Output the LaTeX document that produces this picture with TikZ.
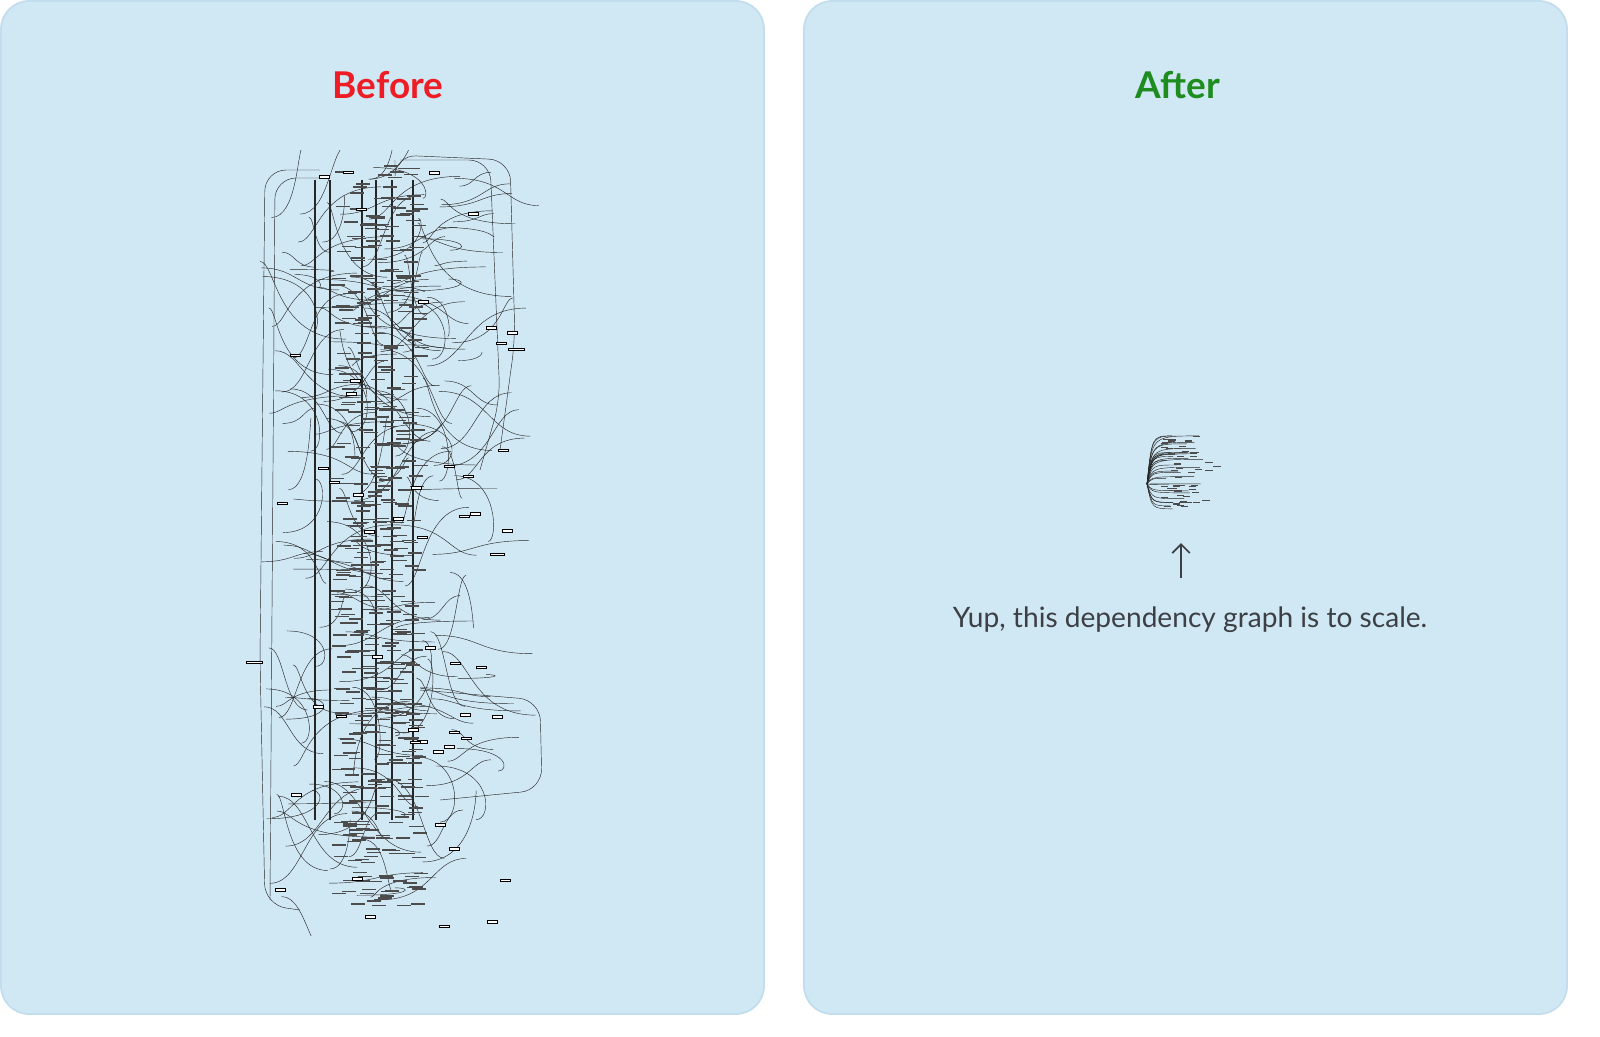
\documentclass[tikz,border=0pt]{standalone}
\usepackage{fontspec}
\usetikzlibrary{arrows.meta}
\setmainfont{Lato}
\begin{document}
\begin{tikzpicture}[x=0.02cm,y=-0.02cm,
  panel/.style={fill=panelblue,draw=panelborder,line width=1pt,rounded corners=16},
  ttl/.style={font=\fontsize{21}{24}\selectfont\bfseries},
  wire/.style={line width=0.25pt,black!85},
  tiny/.style={draw=black,line width=0.2pt,fill=white}]
\definecolor{panelblue}{HTML}{D0E7F4}
\definecolor{panelborder}{HTML}{C2DDEE}
\definecolor{tred}{HTML}{EE1C25}
\definecolor{tgreen}{HTML}{1E8C1E}
\definecolor{ink}{HTML}{3C3F44}
\fill[white] (0,0) rectangle (1600,1036);
\draw[panel] (1,1) rectangle (764,1014);
\draw[panel] (804,1) rectangle (1567,1014);
\node[ttl,text=tred] (before) at (388,85) {Before};
\node[ttl,text=tgreen] (after) at (1178,85) {After};
% --- big graph texture ---
\begin{scope}
\clip (245,150) rectangle (548,935);
\pgfmathsetseed{7}
\foreach \k in {1,...,200}{
  \pgfmathsetmacro\xa{260+rnd*200}
  \pgfmathsetmacro\ya{165+rnd*740}
  \pgfmathsetmacro\xb{\xa+20+rnd*80}
  \pgfmathsetmacro\yb{\ya+(rnd-0.5)*160}
  \pgfmathsetmacro\cx{\xa+rnd*60}
  \draw[wire] (\xa,\ya) .. controls (\cx,\ya) and (\cx,\yb) .. (\xb,\yb);
}
\foreach \xx in {315,330,362,376,392,413}{
  \draw[wire,line width=0.6pt] (\xx,180) -- (\xx,820);
}
\draw[wire,rounded corners=12] (320,170) -- (265,170) -- (260,660) -- (265,905) -- (300,910);
\draw[wire,rounded corners=12] (330,178) -- (275,178) -- (270,900);
\draw[wire,rounded corners=12] (400,160) -- (490,160) -- (500,400) -- (480,470);
\draw[wire,rounded corners=12] (420,690) -- (540,700) -- (542,790) -- (440,800);
\draw[wire,rounded corners=12] (395,160) -- (395,155) -- (510,160) -- (515,340) -- (500,450);
\foreach \k in {1,...,500}{
  \pgfmathsetmacro\xa{330+rnd*85}
  \pgfmathsetmacro\ya{165+rnd*740}
  \fill[black!70] (\xa,\ya) rectangle +(14,1.5);
}
\foreach \k in {1,...,50}{
  \pgfmathsetmacro\xa{270+rnd*250}
  \pgfmathsetmacro\ya{160+rnd*770}
  \draw[tiny] (\xa,\ya) rectangle +(10,2.5);
}
\draw[tiny] (246,661) rectangle +(16,2.5);
\draw[tiny] (508,348) rectangle +(16,2.5);
\draw[tiny] (490,553) rectangle +(14,2.5);
\end{scope}
% --- small graph ---
\foreach \k in {1,...,30}{
  \pgfmathsetmacro\ya{435+rnd*75}
  \pgfmathsetmacro\xb{1165+rnd*40}
  \pgfmathsetmacro\yb{435+rnd*78}
  \draw[wire] (1147,484) .. controls (1152,\yb) .. (\xb,\yb);
}
\foreach \k in {1,...,50}{
  \pgfmathsetmacro\xa{1160+rnd*35}
  \pgfmathsetmacro\ya{435+rnd*75}
  \fill[black!70] (\xa,\ya) rectangle +(7,1.2);
}
\foreach \yy/\xx in {462/1205,466/1213,470/1205,500/1202}{
  \fill[black!70] (\xx,\yy) rectangle +(8,1.2);
}
\coordinate (cap) at (1190,620);
\node[font=\fontsize{16}{19}\selectfont,text=ink] (caption) at (cap) {Yup, this dependency graph is to scale.};
\coordinate (abot) at (1181,578);
\coordinate (atop) at (1181,543);
\draw[ink,line width=1pt,-{Straight Barb[length=5pt]}] (abot) -- (atop);
\pgfresetboundingbox
\useasboundingbox (0,0) rectangle (1600,1036);
\end{tikzpicture}
\end{document}
